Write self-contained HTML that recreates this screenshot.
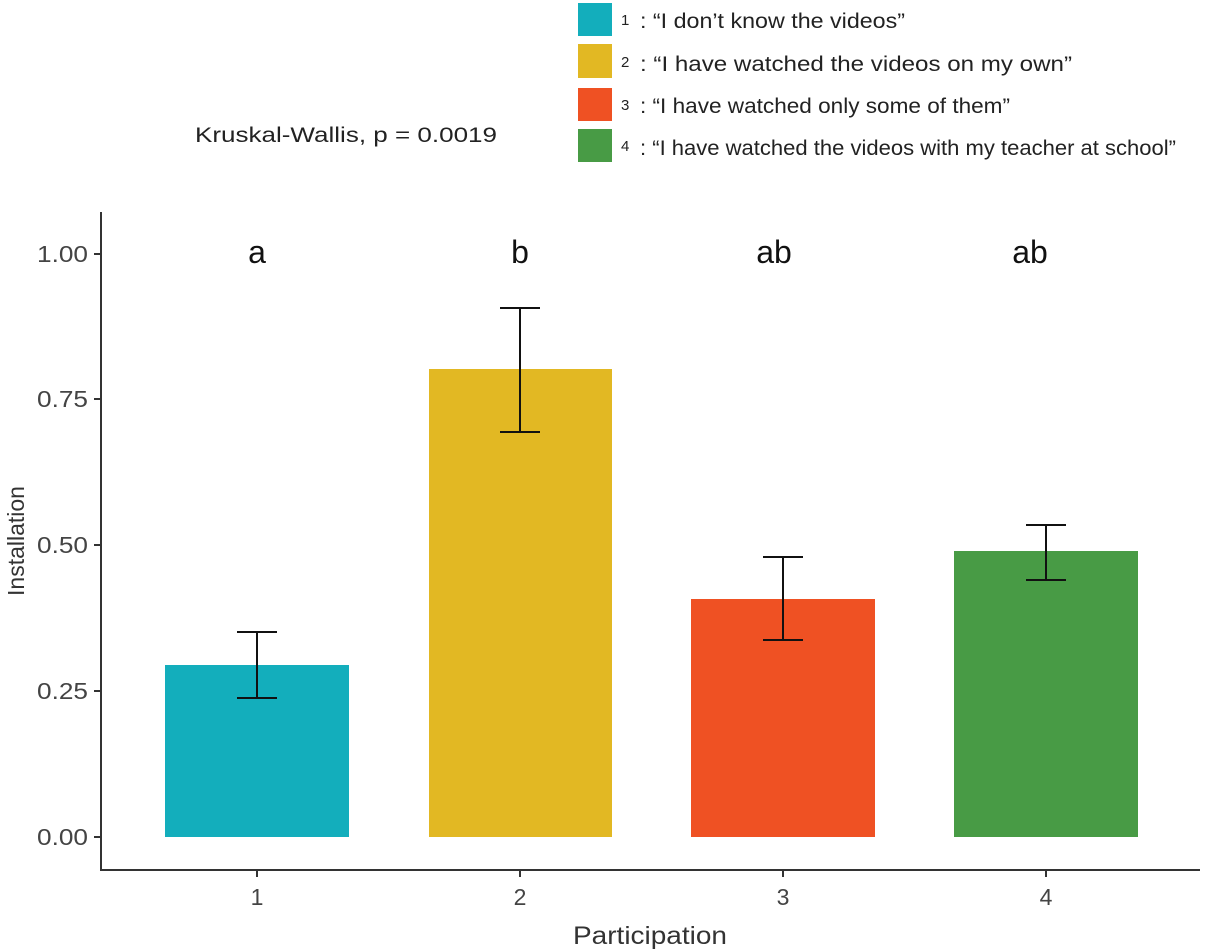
<!DOCTYPE html>
<html><head><meta charset="utf-8"><style>
html,body{margin:0;padding:0;background:#fff;}
svg{display:block;font-family:"Liberation Sans",sans-serif;}
</style></head><body>
<svg width="1205" height="951" viewBox="0 0 1205 951" xmlns="http://www.w3.org/2000/svg">
<rect width="1205" height="951" fill="#fff"/>
<!-- legend -->
<rect x="578" y="3" width="34" height="33" fill="#13aebc"/>
<rect x="578" y="44" width="34" height="34" fill="#e2b823"/>
<rect x="578" y="88" width="34" height="33" fill="#ef5123"/>
<rect x="578" y="129" width="34" height="33" fill="#489b45"/>
<g fill="#222" font-size="15"><text x="621" y="25">1</text><text x="621" y="67">2</text><text x="621" y="110">3</text><text x="621" y="151">4</text></g>
<g fill="#222" font-size="21">
<text x="640" y="28" textLength="265" lengthAdjust="spacingAndGlyphs">: “I don’t know the videos”</text>
<text x="640" y="71" textLength="432" lengthAdjust="spacingAndGlyphs">: “I have watched the videos on my own”</text>
<text x="640" y="113" textLength="370" lengthAdjust="spacingAndGlyphs">: “I have watched only some of them”</text>
<text x="640" y="155" textLength="536" lengthAdjust="spacingAndGlyphs">: “I have watched the videos with my teacher at school”</text>
</g>
<text x="195" y="142" font-size="21" fill="#222" textLength="302" lengthAdjust="spacingAndGlyphs">Kruskal-Wallis, p = 0.0019</text>
<!-- axes -->
<line x1="101" y1="212" x2="101" y2="871" stroke="#333" stroke-width="2"/>
<line x1="100" y1="870" x2="1200" y2="870" stroke="#333" stroke-width="2"/>
<g stroke="#333" stroke-width="2">
<line x1="94" y1="254" x2="101" y2="254"/><line x1="94" y1="399" x2="101" y2="399"/><line x1="94" y1="545" x2="101" y2="545"/><line x1="94" y1="691" x2="101" y2="691"/><line x1="94" y1="837" x2="101" y2="837"/>
<line x1="257" y1="870" x2="257" y2="877"/><line x1="520" y1="870" x2="520" y2="877"/><line x1="783" y1="870" x2="783" y2="877"/><line x1="1046" y1="870" x2="1046" y2="877"/>
</g>
<g font-size="23" fill="#444" text-anchor="end">
<text x="88" y="262" textLength="51" lengthAdjust="spacingAndGlyphs">1.00</text><text x="88" y="407" textLength="51" lengthAdjust="spacingAndGlyphs">0.75</text><text x="88" y="553" textLength="51" lengthAdjust="spacingAndGlyphs">0.50</text><text x="88" y="699" textLength="51" lengthAdjust="spacingAndGlyphs">0.25</text><text x="88" y="845" textLength="51" lengthAdjust="spacingAndGlyphs">0.00</text>
</g>
<g font-size="23" fill="#444" text-anchor="middle">
<text x="257" y="905">1</text><text x="520" y="905">2</text><text x="783" y="905">3</text><text x="1046" y="905">4</text>
</g>
<text x="573" y="944" font-size="25" fill="#333" textLength="154" lengthAdjust="spacingAndGlyphs">Participation</text>
<text transform="translate(24,541) rotate(-90)" font-size="23" fill="#333" text-anchor="middle">Installation</text>
<!-- bars -->
<rect x="165" y="665" width="184" height="172" fill="#13aebc"/>
<rect x="429" y="369" width="183" height="468" fill="#e2b823"/>
<rect x="691" y="599" width="184" height="238" fill="#ef5123"/>
<rect x="954" y="551" width="184" height="286" fill="#489b45"/>
<g stroke="#111" stroke-width="2" fill="none">
<path d="M237 632H277M257 632V698M237 698H277"/>
<path d="M500 308H540M520 308V432M500 432H540"/>
<path d="M763 557H803M783 557V640M763 640H803"/>
<path d="M1026 525H1066M1046 525V580M1026 580H1066"/>
</g>
<g font-size="32" fill="#111" text-anchor="middle">
<text x="257" y="263">a</text><text x="520" y="263">b</text><text x="774" y="263">ab</text><text x="1030" y="263">ab</text>
</g>
</svg>
</body></html>
